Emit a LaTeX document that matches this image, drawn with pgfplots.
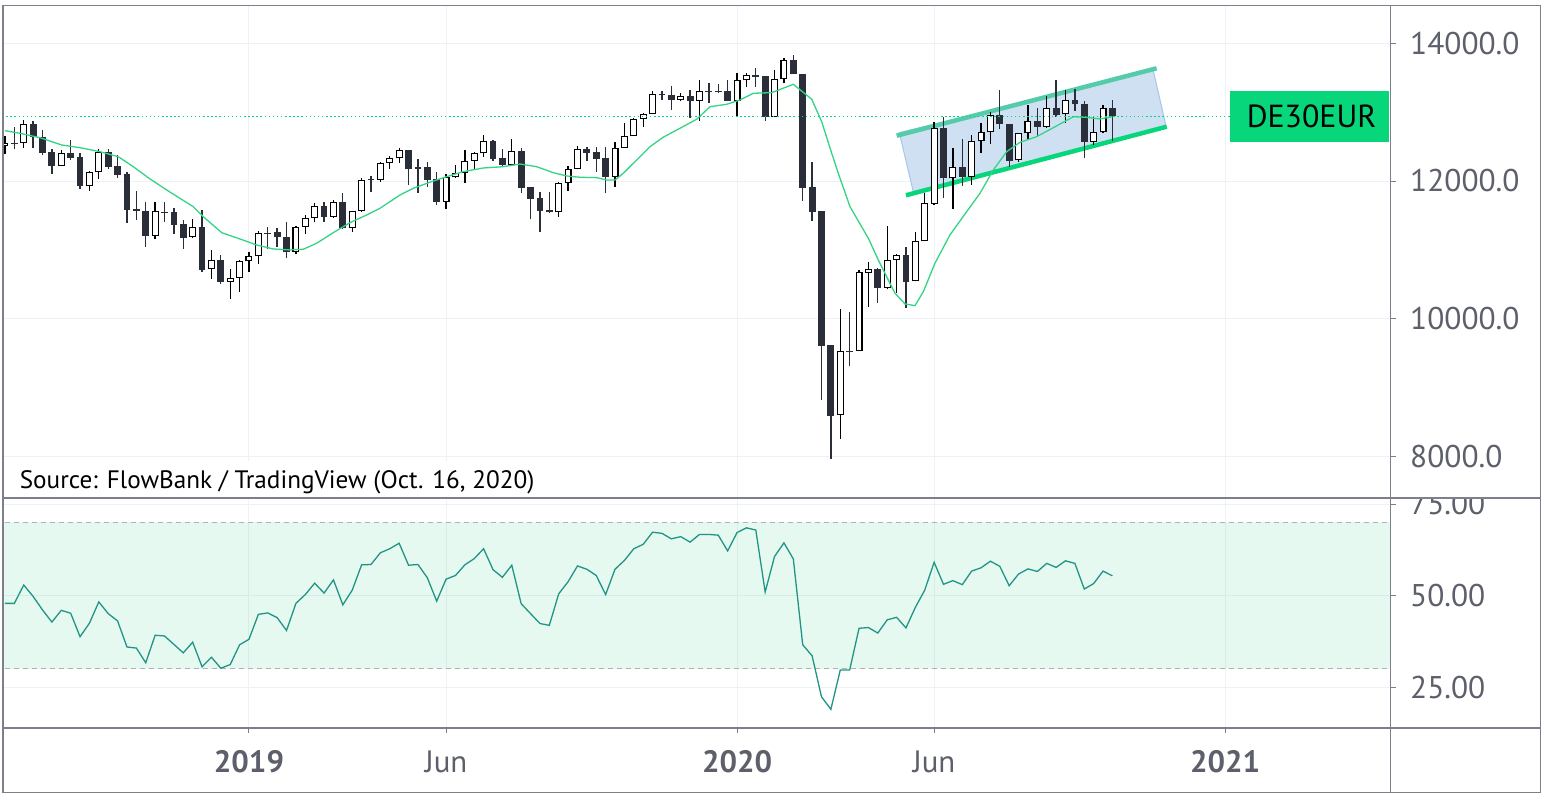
\documentclass[border=0pt]{standalone}
\usepackage{pgfplots}
\pgfplotsset{compat=1.18}
\usepackage{pgfplotstable}
\usepackage{fontspec}
\setmainfont{PT Sans}
\definecolor{framegray}{RGB}{125,128,138}
\definecolor{gridc}{RGB}{238,241,248}
\definecolor{labgray}{RGB}{93,96,107}
\definecolor{dark}{RGB}{42,46,57}
\definecolor{magreen}{RGB}{52,212,134}
\definecolor{rsiline}{RGB}{34,148,134}
\definecolor{bandgreen}{RGB}{0,200,110}
\definecolor{lastgreen}{RGB}{8,214,122}
\definecolor{chanfill}{RGB}{207,224,242}
\definecolor{chanedge}{RGB}{165,198,236}
\definecolor{chanup}{RGB}{84,204,170}
\definecolor{dashgray}{RGB}{175,178,185}

\pgfplotsset{candle/.style={only marks, mark=*, mark size=0.01pt,
  mark options={draw opacity=0, fill opacity=0}, forget plot,
  error bars/.cd, y dir=plus, y explicit, error mark=none}}

\pgfplotstableread{
i o h l c
0 12504 12654 12388 12548
2 12548 12886 12484 12824
6 12222 12451 12215 12403
9 11932 12146 11860 12131
10 12127 12461 12034 12422
16 11206 11700 11158 11561
20 11183 11449 11170 11333
22 10718 10999 10582 10849
24 10540 10723 10283 10590
25 10588 10853 10393 10835
26 10839 10974 10684 10907
27 10907 11275 10791 11240
31 10965 11340 10936 11333
32 11333 11507 11235 11459
33 11459 11677 11401 11633
35 11482 11725 11468 11691
37 11323 11570 11265 11565
38 11561 12044 11550 12015
40 12015 12281 11986 12262
41 12257 12364 12179 12330
42 12330 12475 12257 12451
47 11700 12102 11599 12054
48 12054 12233 12040 12112
49 12112 12451 11976 12286
50 12286 12426 12160 12403
51 12403 12669 12354 12577
54 12237 12610 12230 12432
59 11546 11990 11482 11967
60 11967 12218 11860 12170
61 12170 12509 12170 12461
65 12063 12571 11918 12475
66 12475 12838 12475 12650
67 12650 12915 12650 12901
68 12897 12992 12789 12969
69 12969 13307 12969 13264
72 13181 13274 13158 13230
74 13166 13467 12872 13303
78 13166 13564 12944 13463
79 13463 13573 13365 13540
82 12935 13612 12935 13477
83 13477 13782 13419 13753
89 8599 10141 8259 9528
91 9528 10708 9528 10675
92 10670 10829 10176 10720
94 10451 11347 10428 10849
95 10849 10941 10378 10922
97 10544 11265 10544 11125
98 11125 11822 11125 11677
99 11671 12862 11652 12766
101 12040 12475 11590 12200
103 12063 12669 11943 12577
104 12577 12838 12403 12708
105 12708 13007 12533 12954
108 12301 12693 12272 12693
109 12693 13105 12596 12867
111 12789 13239 12775 13056
113 12969 13322 12838 13172
116 12571 12934 12523 12708
117 12708 13105 12700 13056
}\upc

\pgfplotstableread{
i o h l c
1 12553 12780 12461 12537
3 12828 12876 12484 12635
4 12635 12741 12378 12411
5 12421 12465 12106 12222
7 12407 12596 12306 12339
8 12349 12411 11889 11932
11 12422 12465 12175 12208
12 12218 12382 12048 12092
13 12102 12136 11395 11584
14 11594 11855 11434 11561
15 11565 11700 11047 11206
17 11557 11700 11410 11541
18 11550 11613 11230 11366
19 11376 11434 11017 11177
21 11333 11580 10684 10713
23 10853 10926 10501 10538
28 11250 11333 11017 11233
29 11254 11323 11042 11183
30 11188 11401 10878 10965
34 11633 11700 11410 11482
36 11696 11826 11303 11318
39 12034 12073 11841 12015
43 12451 12451 11943 12179
44 12200 12320 11831 12179
45 12204 12277 11918 12020
46 12030 12127 11652 11700
52 12577 12596 12295 12324
53 12330 12461 12200 12237
55 12436 12480 11831 11903
56 11913 11920 11444 11743
57 11753 11845 11265 11569
58 11575 11845 11530 11546
62 12465 12499 12295 12411
63 12417 12499 12136 12324
64 12334 12499 11822 12063
70 13264 13307 13177 13245
71 13250 13380 13032 13181
73 13235 13322 12920 13166
75 13310 13428 13138 13292
76 13310 13409 13283 13292
77 13308 13467 13160 13166
80 13545 13637 13370 13515
81 13525 13530 12868 12935
84 13753 13830 13550 13550
85 13554 13560 11715 11903
86 11913 12277 11425 11555
87 11565 11570 8821 9609
88 9619 9625 7968 8593
90 9535 10103 9318 9520
93 10723 10730 10234 10451
96 10922 11047 10161 10538
100 12766 12934 11758 12040
102 12200 12606 11932 12063
106 12954 13322 12756 12824
107 12824 12824 12208 12291
110 12867 13066 12644 12789
112 13056 13467 12935 12959
114 13172 13336 13017 13114
115 13114 13162 12330 12571
118 13061 13177 12577 12940
}\downc

\pgfplotstableread{
i v
0 12731
1.6 12693
3.73 12629
6.04 12523
7.99 12484
10.12 12426
12.07 12353
13.67 12208
15.45 12030
17.23 11870
20.06 11627
21.13 11482
23.09 11250
25.04 11158
26.82 11071
28.59 11013
30.37 10999
31.79 11009
33.21 11096
34.98 11250
36.76 11395
38.54 11507
39.96 11604
42.09 11797
43.51 11895
45.28 11982
47.06 12063
48.83 12136
50.96 12189
53.10 12208
54.88 12247
56.65 12208
58.42 12121
59.85 12073
61.27 12054
63.05 12049
64.11 12015
65.0 12015
65.88 12112
67.31 12305
68.73 12499
70.14 12636
71.92 12766
73.70 12897
75.12 13079
76.90 13114
78.32 13177
79.74 13274
81.69 13283
84.0 13405
85.96 13187
87.02 12862
88.09 12403
88.79 12112
90.04 11627
91.99 11169
93.05 10854
94.83 10370
95.90 10215
96.96 10190
97.85 10393
99.09 10806
100.69 11217
102.47 11555
103.89 11822
105.31 12160
106.73 12426
108.15 12562
109.93 12644
111.70 12774
113.84 12934
115.26 12925
116.68 12901
118 12934
}\matab

\pgfplotstableread{
i r
0 47.9
1 47.9
2 52.9
3 49.8
4 46.1
5 42.8
6 46.0
7 45.2
8 38.8
9 42.5
10 48.3
11 45.1
12 43.1
13 36.0
14 35.7
15 31.7
16 39.2
17 39.0
18 36.7
19 34.4
20 37.3
21 30.6
22 33.2
23 30.2
24 31.2
25 36.6
26 38.1
27 44.9
28 45.3
29 44.0
30 40.5
31 47.9
32 50.3
33 53.4
34 50.7
35 54.3
36 47.5
37 51.5
38 58.4
39 58.5
40 61.7
41 62.8
42 64.3
43 58.3
44 58.5
45 54.9
46 48.5
47 54.5
48 55.5
49 58.4
50 60.1
51 62.8
52 57.1
53 55.0
54 58.3
55 47.8
56 45.1
57 42.4
58 41.9
59 50.5
60 53.8
61 58.1
62 57.2
63 55.5
64 50.3
65 57.2
66 59.6
67 62.8
68 64.0
69 67.3
70 67.0
71 65.5
72 66.1
73 64.6
74 66.7
75 66.7
76 66.5
77 62.2
78 67.2
79 68.5
80 67.9
81 51.0
82 60.7
83 64.4
84 60.0
85 36.6
86 33.6
87 22.4
88 19.0
89 29.7
90 29.7
91 41.1
92 41.3
93 39.8
94 43.4
95 44.1
96 41.2
97 46.8
98 51.5
99 59.1
100 53.1
101 54.1
102 53.0
103 56.7
104 57.6
105 59.4
106 58.0
107 52.7
108 55.9
109 57.3
110 56.6
111 58.8
112 57.7
113 59.5
114 58.8
115 51.8
116 53.3
117 56.7
118 55.4
}\rsitab

\begin{document}
\begin{tikzpicture}[x=1bp,y=1bp]
\path[use as bounding box] (0,0) rectangle (1546,802);
\fill[white] (0,0) rectangle (1546,802);

% ---------- main price panel ----------
\begin{axis}[
  at={(3bp,304bp)}, anchor=south west,
  width=1387.7bp, height=492.3bp, scale only axis,
  xmin=-0.21, xmax=147.65, ymin=7397, ymax=14546,
  axis line style={draw=framegray, line width=1.2bp},
  xtick={26,47,78,99,130}, xticklabels={}, 
  major x tick style={draw=none},
  ytick={8000,10000,12000,14000},
  yticklabels={8000.0,10000.0,12000.0,14000.0},
  ytick pos=right, yticklabel pos=right,
  tick align=outside, major tick length=5bp,
  major y tick style={draw=framegray, line width=1bp},
  yticklabel style={anchor=west, xshift=14.3bp, inner sep=0pt,
    font=\fontsize{31.5}{31.5}\selectfont, text=labgray},
  grid=major, major grid style={draw=gridc, line width=1bp},
]
% channel
\addplot[fill=chanfill, draw=chanedge, line width=1bp, forget plot]
  coordinates {(95.29,12702) (122.35,13602) (123.71,12799) (96.78,11845)} -- cycle;
\addplot[chanup, line width=4.5bp, forget plot] coordinates {(95.01,12658) (122.71,13637)};
\addplot[lastgreen, line width=4.5bp, forget plot] coordinates {(96.0,11793) (123.78,12789)};

% wicks
\addplot[candle, error bar style={draw=dark, line width=1.3bp, solid}]
  table[x=i, y=l, y error plus expr=\thisrow{h}-\thisrow{l}] {\downc};
\addplot[candle, error bar style={draw=black, line width=1.3bp, solid}]
  table[x=i, y=l, y error plus expr=\thisrow{h}-\thisrow{l}] {\upc};
% dark bodies
\addplot[candle, error bar style={draw=dark, line width=6.8bp, solid}]
  table[x=i, y=c, y error plus expr=\thisrow{o}-\thisrow{c}] {\downc};
% hollow bodies
\addplot[candle, error bar style={draw=black, line width=7bp, solid}]
  table[x=i, y=o, y error plus expr=\thisrow{c}-\thisrow{o}] {\upc};
\addplot[candle, error bar style={draw=white, line width=4.8bp, solid}]
  table[x=i, y expr=\thisrow{o}+14.5, y error plus expr=\thisrow{c}-\thisrow{o}-29] {\upc};

% moving average
\addplot[magreen, line width=1.3bp, forget plot] table[x=i, y=v] {\matab};
% last price line
\addplot[lastgreen, line width=1.4bp, dash pattern=on 1.5bp off 2.6bp, forget plot]
  coordinates {(-0.3,12940) (148,12940)};
\end{axis}

% ---------- RSI panel ----------
\begin{axis}[
  at={(3bp,74bp)}, anchor=south west,
  width=1387.7bp, height=230bp, scale only axis,
  xmin=-0.21, xmax=147.65, ymin=13.9, ymax=76.64,
  axis line style={draw=framegray, line width=1.2bp},
  xtick={26,47,78,99,130},
  xticklabels={\textbf{2019},Jun,\textbf{2020},Jun,\textbf{2021}},
  xtick pos=bottom,
  xticklabel style={anchor=base, yshift=-39.7bp, inner sep=0pt,
    font=\fontsize{31}{31}\selectfont, text=labgray},
  ytick={25,50,75}, yticklabels={25.00,50.00,75.00},
  ytick pos=right, yticklabel pos=right,
  tick align=outside, major tick length=5bp,
  major tick style={draw=framegray, line width=1bp},
  yticklabel style={anchor=west, xshift=14.3bp, inner sep=0pt,
    font=\fontsize{31.5}{31.5}\selectfont, text=labgray},
  grid=major, major grid style={draw=gridc, line width=1bp},
]
\addplot[draw=none, fill=bandgreen, fill opacity=0.1, forget plot]
  coordinates {(-1,30) (149,30) (149,70) (-1,70)} -- cycle;
\addplot[dashgray, line width=1bp, dash pattern=on 5bp off 4bp, forget plot]
  coordinates {(-1,70) (149,70)};
\addplot[dashgray, line width=1bp, dash pattern=on 5bp off 4bp, forget plot]
  coordinates {(-1,30) (149,30)};
\addplot[rsiline, line width=1.3bp, forget plot] table[x=i, y=r] {\rsitab};
\end{axis}

% cut top of 75.00 label
\fill[white] (1392,304.6) rectangle (1539.5,320);

% source note
\fill[white] (4,305) rectangle (552,341);
\node[anchor=base west, inner sep=0pt, text=black,
  font=\fontsize{25.3}{25.3}\selectfont] at (19.6,313.7)
  {Source: FlowBank / TradingView (Oct. 16, 2020)};

% symbol label
\fill[lastgreen] (1230,660.3) rectangle (1389,711.3);
\node[anchor=center, inner sep=0pt, text=black,
  font=\fontsize{32}{32}\selectfont] at (1311.5,685.8) {DE30EUR};

% frame
\draw[framegray, line width=1.2bp] (3,9.3) rectangle (1540.7,796.3);
\draw[framegray, line width=1.2bp] (3,304) -- (1540.7,304);
\draw[framegray, line width=1.2bp] (3,74) -- (1540.7,74);
\draw[framegray, line width=1.2bp] (1390.7,9.3) -- (1390.7,796.3);
\end{tikzpicture}
\end{document}
